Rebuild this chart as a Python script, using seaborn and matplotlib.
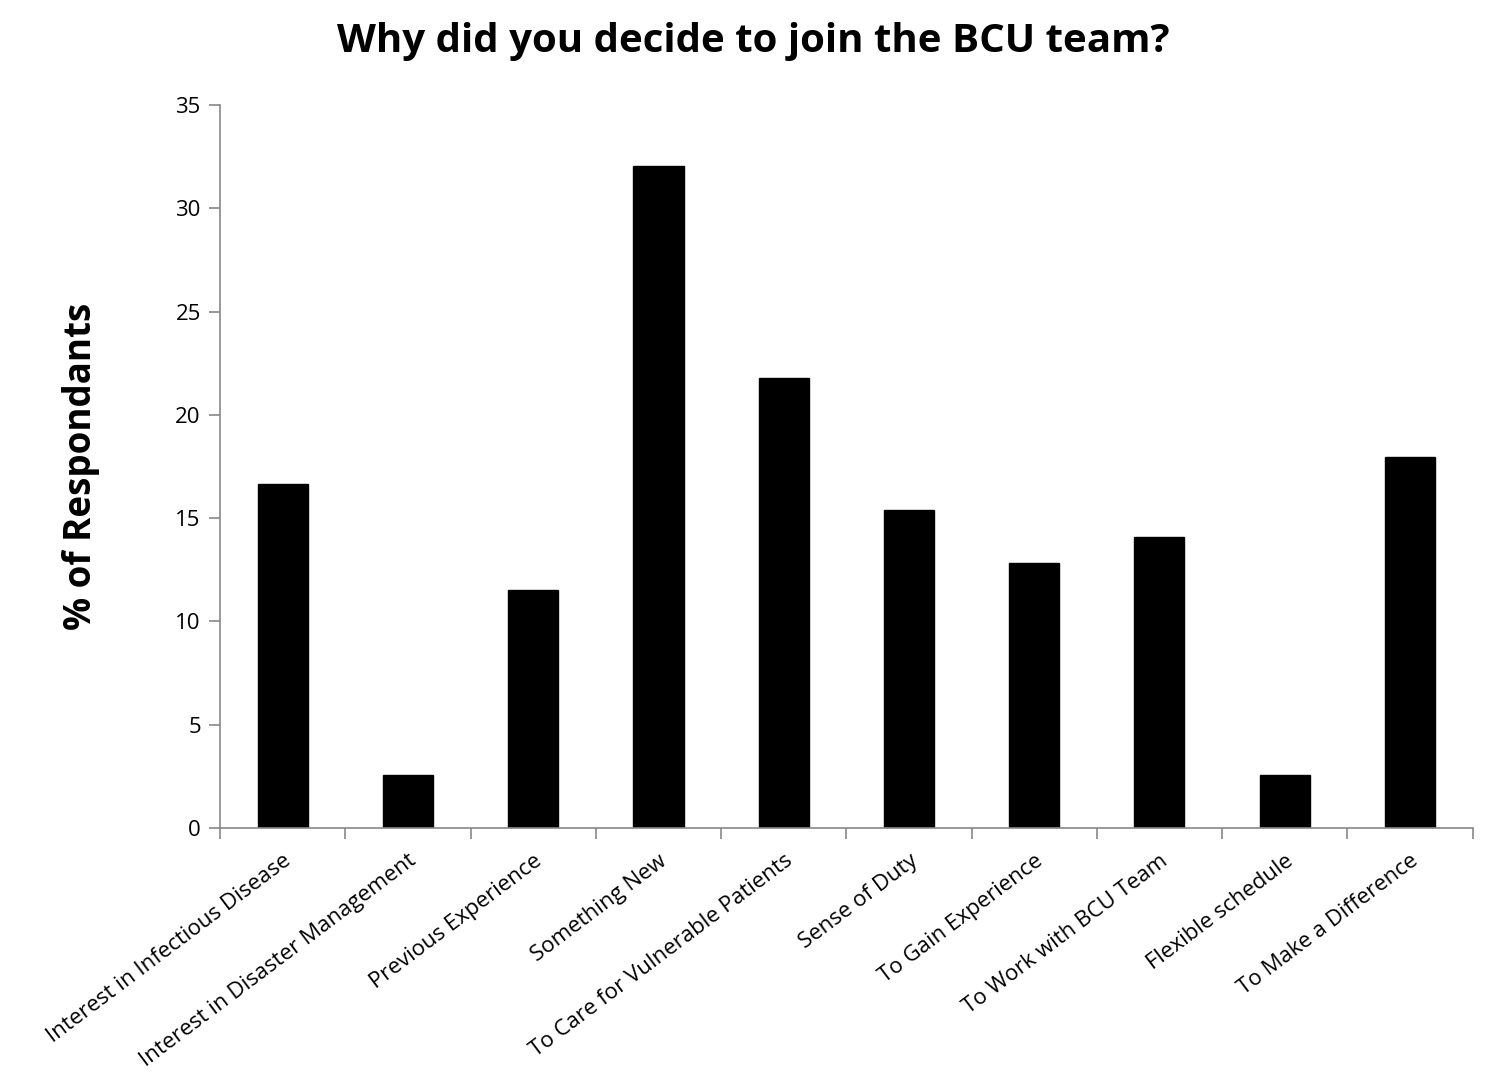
import matplotlib
matplotlib.use("Agg")
import matplotlib.pyplot as plt
import seaborn as sns
import pandas as pd
import numpy as np

categories = ["Interest in Infectious Disease", "Interest in Disaster Management",
              "Previous Experience", "Something New", "To Care for Vulnerable Patients",
              "Sense of Duty", "To Gain Experience", "To Work with BCU Team",
              "Flexible schedule", "To Make a Difference"]
values = [16.67, 2.56, 11.54, 32.05, 21.79, 15.38, 12.82, 14.10, 2.56, 17.95]
yticks = [0, 5, 10, 15, 20, 25, 30, 35]

sns.set_style("white")
plt.rcParams['font.family'] = ['Open Sans', 'DejaVu Sans']
plt.rcParams['text.color'] = 'black'
plt.rcParams['axes.labelcolor'] = 'black'
plt.rcParams['xtick.labelcolor'] = 'black'
plt.rcParams['ytick.labelcolor'] = 'black'

df = pd.DataFrame({"cat": categories, "val": values})
fig = plt.figure(figsize=(14.98, 10.79), dpi=100)
ax = fig.add_axes([0.147, 0.2326, 0.836, 0.6701])
sns.barplot(data=df, x="cat", y="val", color="black", width=0.4, ax=ax,
            saturation=1, edgecolor="black")

ax.set_xlim(-0.5, len(categories) - 0.5)
ax.set_ylim(0, 35)
ax.set_yticks(yticks)
ax.set_yticklabels([str(t) for t in yticks], fontsize=16)
ax.set_xticks(range(len(categories)))
ax.set_xticklabels(categories, rotation=37, ha="right", va="top",
                   rotation_mode="anchor", fontsize=16)
ax.tick_params(axis="x", which="major", length=0, pad=16)
ax.set_xticks(np.arange(-0.5, len(categories), 1.0), minor=True)
ax.tick_params(axis="x", which="minor", length=8, width=1.2, color="#888888", direction="out", bottom=True)
ax.tick_params(axis="y", length=8, width=1.2, color="#888888", direction="out", left=True, pad=6)

for s in ["top", "right"]:
    ax.spines[s].set_visible(False)
for s in ["left", "bottom"]:
    ax.spines[s].set_color("#888888")
    ax.spines[s].set_linewidth(1.2)

ax.set_xlabel("")
ax.set_ylabel("% of Respondants", fontsize=26.5, fontweight="bold", labelpad=54, color="black")
fig.suptitle("Why did you decide to join the BCU team?", fontsize=29, fontweight="bold",
             x=0.503, y=0.98, color="black")

fig.savefig("out.png", dpi=100)
